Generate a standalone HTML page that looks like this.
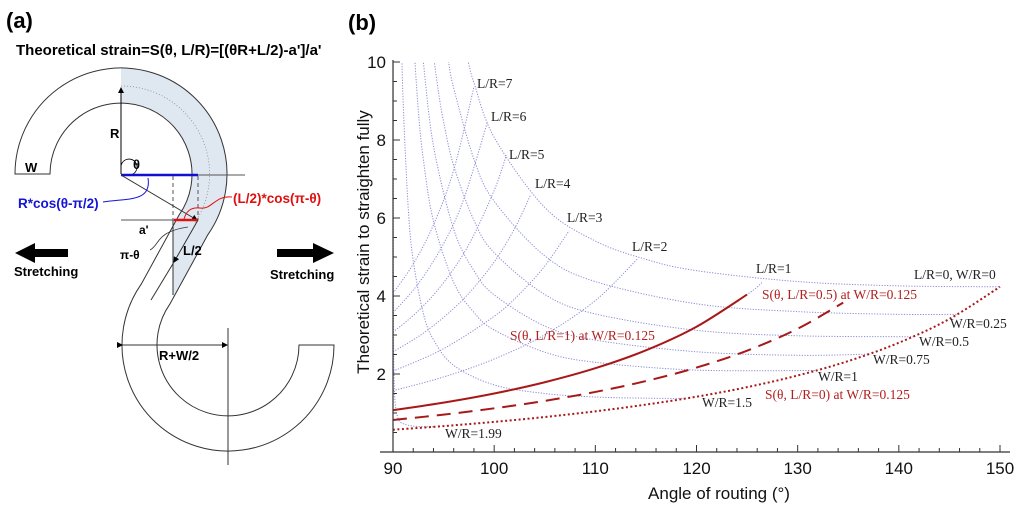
<!DOCTYPE html>
<html><head><meta charset="utf-8"><style>
html,body{margin:0;padding:0;background:#fff;}
svg{display:block;}
.b{font-family:"Liberation Sans",sans-serif;font-weight:bold;}
.s{font-family:"Liberation Serif",serif;font-size:13.5px;}
.ax{font-family:"Liberation Sans",sans-serif;}
</style></head><body>
<svg id="fig" width="1024" height="509" viewBox="0 0 1024 509" xmlns="http://www.w3.org/2000/svg">
<defs>
<marker id="ah" markerWidth="6" markerHeight="6" refX="5" refY="3" orient="auto"><path d="M0,0 L6,3 L0,6 z" fill="#000"/></marker>
<clipPath id="plotclip"><rect x="393" y="62" width="620" height="390"/></clipPath>
</defs>
<!-- Panel (a) -->
<g>
<text x="6" y="28" class="b" font-size="22">(a)</text>
<text x="16" y="55" class="b" font-size="15">Theoretical strain=S(θ, L/R)=[(θR+L/2)-a']/a'</text>
<path d="M121,68 A106,106 0 0 1 207.8,234.8 L173,298 L173,226 L179.2,214.8 A71,71 0 0 0 121,103 Z" fill="#dfe8f1"/>
<path d="M121,86 A88,88 0 0 1 194,224" fill="none" stroke="#888" stroke-width="0.8" stroke-dasharray="1,2"/>
<path fill="none" stroke="#333" stroke-width="1"
 d="M15,174 A106,106 0 1 1 207.8,234.8 L169.8,304.2 A71,71 0 1 0 299,345 L334,345 A106,106 0 1 1 141.2,284.2 L179.2,214.8 A71,71 0 1 0 50,174 Z"/>
<line x1="121" y1="174" x2="121" y2="88" stroke="#000" stroke-width="1" marker-end="url(#ah)"/>
<text x="110" y="138" class="b" font-size="13">R</text>
<text x="25" y="172" class="b" font-size="13">W</text>
<text x="133" y="169" class="b" font-size="13">θ</text>
<path d="M128,175 A8,8 0 1 0 121,167" fill="none" stroke="#000" stroke-width="0.8"/>
<line x1="121" y1="175" x2="245" y2="175" stroke="#555" stroke-width="1"/>
<line x1="121" y1="175" x2="198" y2="175" stroke="#1010d0" stroke-width="2.5"/>
<line x1="173" y1="176" x2="173" y2="220" stroke="#555" stroke-dasharray="4,3"/>
<line x1="198" y1="176" x2="198" y2="220" stroke="#555" stroke-dasharray="4,3"/>
<line x1="121" y1="175" x2="197" y2="220" stroke="#333" stroke-width="1" marker-end="url(#ah)"/>
<line x1="121" y1="220" x2="198" y2="220" stroke="#555" stroke-width="1"/>
<line x1="174" y1="220" x2="198" y2="220" stroke="#e01010" stroke-width="2.5"/>
<line x1="173" y1="220" x2="173" y2="295" stroke="#333" stroke-width="1"/>
<line x1="198" y1="220" x2="174" y2="262" stroke="#333" stroke-width="1" marker-end="url(#ah)"/>
<line x1="174" y1="262" x2="151" y2="300" stroke="#333" stroke-width="1"/>
<text x="139" y="234" class="b" font-size="12">a'</text>
<text x="120" y="259" class="b" font-size="12">π-θ</text>
<path d="M150,250 C160,245 155,232 188,227" fill="none" stroke="#333" stroke-width="0.8"/>
<text x="183" y="255" class="b" font-size="13">L/2</text>
<line x1="122" y1="345" x2="227" y2="345" stroke="#333" stroke-width="1" marker-start="url(#ah)" marker-end="url(#ah)"/>
<line x1="228" y1="328" x2="228" y2="465" stroke="#333" stroke-width="1"/>
<text x="159" y="360" class="b" font-size="13">R+W/2</text>
<text x="18" y="208" class="b" font-size="13.5" fill="#1414d8">R*cos(θ-π/2)</text>
<path d="M103,202 C125,198 152,203 148,178" fill="none" stroke="#1414d8" stroke-width="1"/>
<text x="233" y="203" class="b" font-size="13.5" fill="#e01010">(L/2)*cos(π-θ)</text>
<path d="M232,197 C215,195 212,210 200,208 C190,207 186,212 184,219" fill="none" stroke="#e01010" stroke-width="1"/>
<path d="M15,253 L35,243 L35,249 L68,249 L68,257 L35,257 L35,263 Z" fill="#000"/>
<text x="14" y="276" class="b" font-size="13">Stretching</text>
<path d="M334,253 L313,243 L313,249 L277,249 L277,257 L313,257 L313,263 Z" fill="#000"/>
<text x="270" y="279" class="b" font-size="13">Stretching</text>
</g>
<!-- Panel (b) -->
<text x="348" y="30" class="b" font-size="22">(b)</text>
<g id="chart"></g>
</svg>
<script>
// ---- chart data (theta in degrees, strain values) ----
const xTicks = [90, 100, 110, 120, 130, 140, 150];
const yTicks = [2, 4, 6, 8, 10];
const lr1 = [[90,1.071],[95,1.266],[100,1.5],[105,1.789],[110,2.148],[115,2.607],[120,3.212],[125,4.037],[126.5,4.35]];
const lr2 = [[90,1.571],[95,1.924],[100,2.384],[105,3.006],[110,3.885],[114.2,4.96]];
const lr3 = [[90,2.071],[95,2.649],[100,3.48],[102.5,4.05],[105,4.769],[107.4,5.67]];
const lr4 = [[90,2.571],[92.5,2.96],[95,3.451],[97.5,4.07],[100,4.874],[102,5.72],[103.6,6.59]];
const lr5 = [[90,3.071],[92.5,3.62],[95,4.343],[97.5,5.32],[100,6.707],[101.2,7.61]];
const lr6 = [[90,3.571],[92.5,4.315],[95,5.341],[97,6.49],[99.3,8.43]];
const lr7 = [[90,4.071],[92,4.82],[94,5.824],[96,7.23],[98,9.36]];
const wr0 = [[97.2,10.25],[97.5,9.93],[98,9.47],[100,8.07],[105,6.27],[110,5.41],[115,4.94],[120,4.65],[130,4.37],[140,4.26],[150,4.236]];
const wr025 = [[95.3,10.29],[95.5,9.99],[96,9.33],[98,7.51],[100,6.43],[105,5.03],[110,4.37],[120,3.80],[130,3.60],[140,3.53],[145.8,3.53]];
const wr05 = [[94,10.17],[94.5,9.22],[95,8.47],[96,7.34],[98,5.94],[100,5.11],[105,4.04],[110,3.54],[120,3.12],[130,2.98],[141.4,2.955]];
const wr075 = [[92.8,10.6],[93,10.0],[94,7.85],[96,5.71],[98,4.65],[100,4.03],[105,3.23],[110,2.87],[120,2.57],[130,2.48],[137.1,2.51]];
const wr1 = [[92,10.67],[92.5,8.77],[93,7.5],[94,5.92],[96,4.35],[98,3.58],[100,3.13],[105,2.56],[110,2.30],[120,2.10],[131.9,2.09]];
const wr15 = [[90.8,11.0],[91,8.99],[91.5,6.27],[92,4.91],[93,3.55],[94,2.88],[96,2.22],[100,1.72],[105,1.50],[110,1.41],[115,1.38],[119,1.373]];
const wr199 = [[90.01,10.5],[90.05,3.45],[90.1,2.01],[90.2,1.29],[90.5,0.866],[91,0.727],[92,0.664],[93,0.649],[94.05,0.646]];
const redSolid = [[90,1.071],[95,1.266],[100,1.5],[105,1.789],[110,2.148],[115,2.607],[120,3.212],[125,4.037]];
const redDash = [[90,0.821],[95,0.958],[100,1.12],[105,1.311],[110,1.54],[115,1.819],[120,2.164],[125,2.598],[130,3.161],[134.5,3.83]];
const redDot = [[90,0.571],[95,0.664],[100,0.772],[105,0.897],[110,1.043],[115,1.215],[120,1.418],[125,1.663],[130,1.962],[135,2.332],[140,2.801],[145,3.412],[150,4.236]];

const NS = 'http://www.w3.org/2000/svg';
const X = t => 393 + (t - 90) * (607 / 60);
const Y = s => 452 - s * 39;
const chart = document.getElementById('chart');
function mk(tag, attrs, parent) {
  const e = document.createElementNS(NS, tag);
  for (const k in attrs) e.setAttribute(k, attrs[k]);
  (parent || chart).appendChild(e);
  return e;
}
function pathD(pts) {
  const p = pts.map(q => [X(q[0]), Y(q[1])]);
  let d = 'M' + p[0][0].toFixed(2) + ',' + p[0][1].toFixed(2);
  for (let i = 0; i < p.length - 1; i++) {
    const p0 = p[i - 1] || p[i], p1 = p[i], p2 = p[i + 1], p3 = p[i + 2] || p2;
    const c1 = [p1[0] + (p2[0] - p0[0]) / 6, p1[1] + (p2[1] - p0[1]) / 6];
    const c2 = [p2[0] - (p3[0] - p1[0]) / 6, p2[1] - (p3[1] - p1[1]) / 6];
    d += ' C' + c1.map(v=>v.toFixed(2)).join(',') + ' ' + c2.map(v=>v.toFixed(2)).join(',') + ' ' + p2.map(v=>v.toFixed(2)).join(',');
  }
  return d;
}
const grid = mk('g', {'clip-path': 'url(#plotclip)'});


const gridSeries = [['lr-1',lr1],['lr-2',lr2],['lr-3',lr3],['lr-4',lr4],['lr-5',lr5],['lr-6',lr6],['lr-7',lr7],
  ['wr-0',wr0],['wr-0-25',wr025],['wr-0-5',wr05],['wr-0-75',wr075],['wr-1',wr1],['wr-1-5',wr15],['wr-1-99',wr199]];
gridSeries.forEach(s => {
  const e = mk('path', {d: pathD(s[1]), fill: 'none', stroke: '#8a8ad6', 'stroke-width': 1, 'stroke-dasharray': '1.2,1.5'}, grid);
  
  
});
const rs = mk('path', {d: pathD(redSolid), fill: 'none', stroke: '#a81818', 'stroke-width': 2});


const rd = mk('path', {d: pathD(redDash), fill: 'none', stroke: '#a81818', 'stroke-width': 2, 'stroke-dasharray': '14,8'});


const rt = mk('path', {d: pathD(redDot), fill: 'none', stroke: '#a81818', 'stroke-width': 2, 'stroke-dasharray': '2,2.5'});



// axes
const xa = mk('line', {x1: 380, y1: 452, x2: 1010, y2: 452, stroke: '#333', 'stroke-width': 1.2});


const ya = mk('line', {x1: 393, y1: 60, x2: 393, y2: 452, stroke: '#333', 'stroke-width': 1.2});


for (let t = 90; t <= 150; t += 2) {
  const major = (t % 10 === 0);
  mk('line', {x1: X(t), y1: 452, x2: X(t), y2: 452 - (major ? 7 : 4), stroke: '#333', 'stroke-width': 1});
}
for (let s = 0.5; s <= 10; s += 0.5) {
  const major = (s % 2 === 0);
  mk('line', {x1: 393, y1: Y(s), x2: 393 + (major ? 7 : 4), y2: Y(s), stroke: '#333', 'stroke-width': 1});
}
xTicks.forEach(t => {
  const e = mk('text', {x: X(t), y: 474, 'text-anchor': 'middle', 'font-size': 17, class: 'ax', fill: '#111'});
  e.textContent = t;
  
  
});
yTicks.forEach(s => {
  const e = mk('text', {x: 386, y: Y(s) + 6, 'text-anchor': 'end', 'font-size': 17, class: 'ax', fill: '#111'});
  e.textContent = s;
  
  
});
const xt = mk('text', {x: 719, y: 499, 'text-anchor': 'middle', 'font-size': 17, class: 'ax', fill: '#111'});
xt.textContent = 'Angle of routing (°)';


const yt = mk('text', {x: 0, y: 0, 'text-anchor': 'middle', 'font-size': 17, class: 'ax', fill: '#111', transform: 'translate(369,242) rotate(-90)'});
yt.textContent = 'Theoretical strain to straighten fully';



const labels = [
  ['L/R=7', 477, 88, '#222'], ['L/R=6', 491, 121, '#222'], ['L/R=5', 509, 159, '#222'],
  ['L/R=4', 535, 188, '#222'], ['L/R=3', 567, 222, '#222'], ['L/R=2', 632, 251, '#222'],
  ['L/R=1', 756, 273, '#222'], ['L/R=0, W/R=0', 914, 279, '#222'],
  ['W/R=0.25', 950, 328, '#222'], ['W/R=0.5', 919, 346, '#222'], ['W/R=0.75', 873, 364, '#222'],
  ['W/R=1', 818, 381, '#222'], ['W/R=1.5', 702, 407, '#222'], ['W/R=1.99', 445, 438, '#222'],
  ['S(θ, L/R=0.5) at W/R=0.125', 762, 299, '#b02020'],
  ['S(θ, L/R=1) at W/R=0.125', 510, 340, '#b02020'],
  ['S(θ, L/R=0) at W/R=0.125', 765, 399, '#b02020']
];
labels.forEach(l => {
  const e = mk('text', {x: l[1], y: l[2], class: 's', fill: l[3]});
  e.textContent = l[0];
  
  
});
</script>
</body></html>
